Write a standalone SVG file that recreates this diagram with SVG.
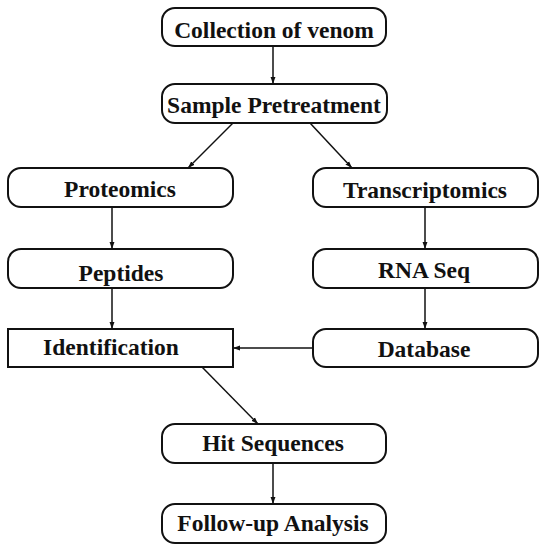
<svg xmlns="http://www.w3.org/2000/svg" width="544" height="550" viewBox="0 0 544 550">
<style>
.box{fill:#fff;stroke:#111;stroke-width:2}
.t{font-family:"Liberation Serif","Times New Roman",serif;font-weight:bold;font-size:23.5px;fill:#111;text-anchor:middle}
.c{stroke:#111;stroke-width:1.5;fill:none}
</style>
<defs>
<marker id="ah" viewBox="0 0 10 10" refX="10" refY="5" markerWidth="7" markerHeight="7" markerUnits="userSpaceOnUse" orient="auto">
<path d="M0,1.5 L10,5 L0,8.5 Z" fill="#111"/>
</marker>
</defs>
<rect width="544" height="550" fill="#fff"/>
<g id="connectors">
<line class="c" x1="273" y1="46" x2="273" y2="84" marker-end="url(#ah)"/>
<line class="c" x1="233" y1="123" x2="188" y2="168" marker-end="url(#ah)"/>
<line class="c" x1="310" y1="123" x2="352" y2="168" marker-end="url(#ah)"/>
<line class="c" x1="112" y1="207" x2="112" y2="249" marker-end="url(#ah)"/>
<line class="c" x1="425" y1="207" x2="425" y2="249" marker-end="url(#ah)"/>
<line class="c" x1="112" y1="288" x2="112" y2="329" marker-end="url(#ah)"/>
<line class="c" x1="425" y1="288" x2="425" y2="329" marker-end="url(#ah)"/>
<line class="c" x1="313" y1="348" x2="233" y2="348" marker-end="url(#ah)"/>
<line class="c" x1="202" y1="367" x2="258" y2="424" marker-end="url(#ah)"/>
<line class="c" x1="273" y1="463" x2="273" y2="504" marker-end="url(#ah)"/>
</g>
<g id="collection"><rect class="box" x="162" y="8" width="224" height="38" rx="13"/><text class="t" x="274" y="38">Collection of venom</text></g>
<g id="pretreatment"><rect class="box" x="162" y="84" width="225" height="39" rx="13"/><text class="t" x="274" y="113">Sample Pretreatment</text></g>
<g id="proteomics"><rect class="box" x="8" y="168" width="225" height="39" rx="13"/><text class="t" x="120" y="197">Proteomics</text></g>
<g id="transcriptomics"><rect class="box" x="313" y="168" width="225" height="39" rx="13"/><text class="t" x="425" y="198">Transcriptomics</text></g>
<g id="peptides"><rect class="box" x="8" y="249" width="225" height="39" rx="13"/><text class="t" x="121" y="281">Peptides</text></g>
<g id="rnaseq"><rect class="box" x="313" y="249" width="225" height="39" rx="13"/><text class="t" x="424" y="278">RNA Seq</text></g>
<g id="identification"><rect class="box" x="8" y="329" width="225" height="38"/><text class="t" x="111" y="355">Identification</text></g>
<g id="database"><rect class="box" x="313" y="329" width="225" height="38" rx="13"/><text class="t" x="424" y="357">Database</text></g>
<g id="hit"><rect class="box" x="162" y="424" width="224" height="39" rx="13"/><text class="t" x="273" y="451">Hit Sequences</text></g>
<g id="followup"><rect class="box" x="162" y="504" width="224" height="39" rx="13"/><text class="t" x="273" y="531">Follow-up Analysis</text></g>
</svg>
